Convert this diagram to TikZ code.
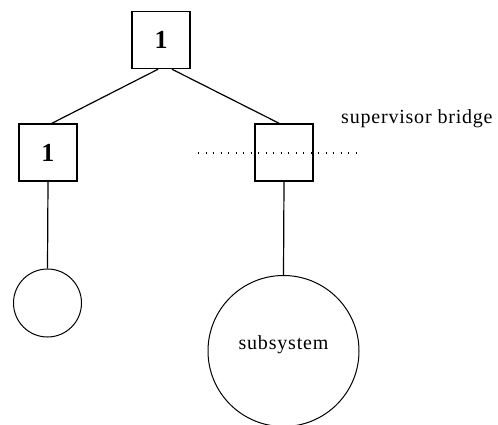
\documentclass[tikz,border=0pt]{standalone}
\usepackage{fontspec}
\setmainfont{Liberation Serif}
\begin{document}
\begin{tikzpicture}[x=1pt,y=-1pt,
  unitbox/.style={draw,line width=1.5pt,rectangle,minimum width=58pt,minimum height=57pt,inner sep=0pt,
    font=\fontsize{26}{30}\selectfont\bfseries},
  unitcirc/.style={draw,line width=1pt,circle,inner sep=0pt},
  link/.style={line width=1.2pt},
  label/.style={inner sep=0pt,font=\fontsize{20}{24}\selectfont\addfontfeatures{LetterSpace=4}}]
  \useasboundingbox (0,0) rectangle (498,425);
  % tree of supervisors
  \node[unitbox] (top) at (161,40) {1};
  \node[unitbox] (lb) at (48,152.5) {1};
  \node[unitbox] (rb) at (284,152.5) {};
  % attached subsystems
  \node[unitcirc,minimum size=68pt] (lc) at (47.5,303) {};
  \node[unitcirc,minimum size=151pt] (rc) at (283.5,351) {};
  \node[label] (rct) at ([yshift=6pt]rc.center) {subsystem};
  % connectors
  \coordinate (topl) at ([xshift=-3pt]top.south);
  \coordinate (topr) at ([xshift=11pt]top.south);
  \draw[link] (topl) -- ([xshift=4pt]lb.north);
  \draw[link] (topr) -- ([xshift=-5pt]rb.north);
  \draw[link] (lb.south) -- (lc.north);
  \draw[link] (rb.south) -- (rc.north);
  % bridge marker
  \coordinate (dl) at (198,153);
  \coordinate (dr) at (358,153);
  \draw[line width=1.3pt,dash pattern=on 1.3pt off 6.2pt] (dl) -- (dr);
  \node[label,anchor=base west] (sb) at (341,124) {supervisor bridge};
\end{tikzpicture}
\end{document}
